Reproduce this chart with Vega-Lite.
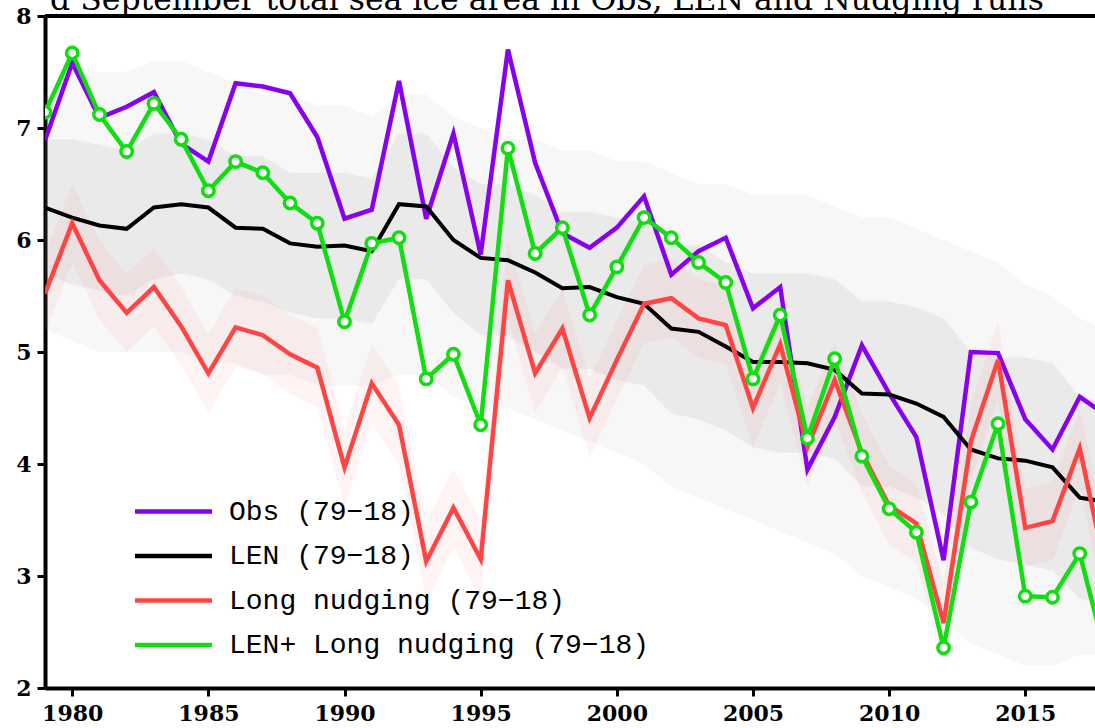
{
  "$schema": "https://vega.github.io/schema/vega-lite/v6.json",
  "width": 1050,
  "height": 672,
  "autosize": {"type": "none"},
  "padding": {"left": 45, "top": 16, "right": 0, "bottom": 40},
  "background": "white",
  "title": {
    "text": "d September total sea ice area in Obs, LEN and Nudging runs",
    "anchor": "start",
    "frame": "group",
    "font": "DejaVu Serif",
    "fontSize": 31.5,
    "fontWeight": "normal",
    "color": "black",
    "baseline": "alphabetic",
    "offset": 0,
    "dy": 36,
    "dx": 5
  },
  "config": {
    "view": {"stroke": null},
    "axis": {
      "labelFont": "DejaVu Serif",
      "labelFontWeight": "bold",
      "labelFontSize": 22,
      "labelColor": "black",
      "domainColor": "black",
      "domainWidth": 4,
      "tickColor": "black",
      "tickWidth": 3,
      "tickSize": 8,
      "grid": false,
      "labelPadding": 6
    }
  },
  "data": {
    "values": [
      {"year": 1979, "obs": 6.89, "len": 6.29, "nud": 5.52, "ln": 7.14, "glo": 5.2, "ghi": 7.3, "ilo": 5.7, "ihi": 6.9, "rlo": 5.17, "rhi": 5.87},
      {"year": 1980, "obs": 7.58, "len": 6.2, "nud": 6.15, "ln": 7.67, "glo": 5.1, "ghi": 7.5, "ilo": 5.6, "ihi": 6.9, "rlo": 5.8, "rhi": 6.5},
      {"year": 1981, "obs": 7.09, "len": 6.13, "nud": 5.64, "ln": 7.12, "glo": 5.0, "ghi": 7.5, "ilo": 5.55, "ihi": 6.85, "rlo": 5.29, "rhi": 5.99},
      {"year": 1982, "obs": 7.19, "len": 6.1, "nud": 5.35, "ln": 6.79, "glo": 5.0, "ghi": 7.5, "ilo": 5.5, "ihi": 6.8, "rlo": 5.0, "rhi": 5.7},
      {"year": 1983, "obs": 7.32, "len": 6.29, "nud": 5.58, "ln": 7.22, "glo": 5.0, "ghi": 7.6, "ilo": 5.65, "ihi": 6.95, "rlo": 5.23, "rhi": 5.93},
      {"year": 1984, "obs": 6.86, "len": 6.32, "nud": 5.23, "ln": 6.9, "glo": 5.0, "ghi": 7.6, "ilo": 5.7, "ihi": 6.95, "rlo": 4.88, "rhi": 5.58},
      {"year": 1985, "obs": 6.7, "len": 6.29, "nud": 4.81, "ln": 6.44, "glo": 4.9, "ghi": 7.5, "ilo": 5.65, "ihi": 6.9, "rlo": 4.46, "rhi": 5.16},
      {"year": 1986, "obs": 7.4, "len": 6.11, "nud": 5.22, "ln": 6.7, "glo": 4.9, "ghi": 7.4, "ilo": 5.5, "ihi": 6.75, "rlo": 4.87, "rhi": 5.57},
      {"year": 1987, "obs": 7.37, "len": 6.1, "nud": 5.15, "ln": 6.6, "glo": 4.8, "ghi": 7.3, "ilo": 5.45, "ihi": 6.75, "rlo": 4.8, "rhi": 5.5},
      {"year": 1988, "obs": 7.31, "len": 5.97, "nud": 4.98, "ln": 6.33, "glo": 4.8, "ghi": 7.3, "ilo": 5.35, "ihi": 6.6, "rlo": 4.63, "rhi": 5.33},
      {"year": 1989, "obs": 6.92, "len": 5.94, "nud": 4.86, "ln": 6.15, "glo": 4.7, "ghi": 7.2, "ilo": 5.3, "ihi": 6.6, "rlo": 4.51, "rhi": 5.21},
      {"year": 1990, "obs": 6.19, "len": 5.95, "nud": 3.97, "ln": 5.27, "glo": 4.7, "ghi": 7.2, "ilo": 5.3, "ihi": 6.6, "rlo": 3.62, "rhi": 4.32},
      {"year": 1991, "obs": 6.27, "len": 5.9, "nud": 4.72, "ln": 5.97, "glo": 4.7, "ghi": 7.1, "ilo": 5.25, "ihi": 6.55, "rlo": 4.37, "rhi": 5.07},
      {"year": 1992, "obs": 7.42, "len": 6.32, "nud": 4.35, "ln": 6.02, "glo": 4.8, "ghi": 7.3, "ilo": 5.65, "ihi": 6.95, "rlo": 4.0, "rhi": 4.7},
      {"year": 1993, "obs": 6.19, "len": 6.3, "nud": 3.13, "ln": 4.76, "glo": 4.8, "ghi": 7.3, "ilo": 5.65, "ihi": 6.95, "rlo": 2.78, "rhi": 3.48},
      {"year": 1994, "obs": 6.95, "len": 6.0, "nud": 3.61, "ln": 4.98, "glo": 4.6, "ghi": 7.1, "ilo": 5.35, "ihi": 6.65, "rlo": 3.26, "rhi": 3.96},
      {"year": 1995, "obs": 5.87, "len": 5.84, "nud": 3.15, "ln": 4.35, "glo": 4.5, "ghi": 7.0, "ilo": 5.15, "ihi": 6.5, "rlo": 2.8, "rhi": 3.5},
      {"year": 1996, "obs": 7.7, "len": 5.82, "nud": 5.64, "ln": 6.82, "glo": 4.5, "ghi": 6.9, "ilo": 5.15, "ihi": 6.5, "rlo": 5.29, "rhi": 5.99},
      {"year": 1997, "obs": 6.69, "len": 5.71, "nud": 4.81, "ln": 5.88, "glo": 4.4, "ghi": 6.9, "ilo": 5.0, "ihi": 6.4, "rlo": 4.46, "rhi": 5.16},
      {"year": 1998, "obs": 6.06, "len": 5.57, "nud": 5.21, "ln": 6.11, "glo": 4.3, "ghi": 6.8, "ilo": 4.85, "ihi": 6.25, "rlo": 4.86, "rhi": 5.56},
      {"year": 1999, "obs": 5.93, "len": 5.58, "nud": 4.41, "ln": 5.33, "glo": 4.2, "ghi": 6.8, "ilo": 4.85, "ihi": 6.25, "rlo": 4.06, "rhi": 4.76},
      {"year": 2000, "obs": 6.11, "len": 5.49, "nud": 4.93, "ln": 5.76, "glo": 4.1, "ghi": 6.7, "ilo": 4.75, "ihi": 6.2, "rlo": 4.58, "rhi": 5.28},
      {"year": 2001, "obs": 6.39, "len": 5.43, "nud": 5.43, "ln": 6.2, "glo": 4.0, "ghi": 6.7, "ilo": 4.7, "ihi": 6.15, "rlo": 5.08, "rhi": 5.78},
      {"year": 2002, "obs": 5.69, "len": 5.21, "nud": 5.48, "ln": 6.02, "glo": 3.8, "ghi": 6.6, "ilo": 4.45, "ihi": 5.95, "rlo": 5.13, "rhi": 5.83},
      {"year": 2003, "obs": 5.9, "len": 5.18, "nud": 5.3, "ln": 5.8, "glo": 3.7, "ghi": 6.5, "ilo": 4.4, "ihi": 5.95, "rlo": 4.95, "rhi": 5.65},
      {"year": 2004, "obs": 6.02, "len": 5.05, "nud": 5.24, "ln": 5.62, "glo": 3.6, "ghi": 6.5, "ilo": 4.3, "ihi": 5.8, "rlo": 4.89, "rhi": 5.59},
      {"year": 2005, "obs": 5.39, "len": 4.91, "nud": 4.5, "ln": 4.76, "glo": 3.5, "ghi": 6.4, "ilo": 4.15, "ihi": 5.7, "rlo": 4.15, "rhi": 4.85},
      {"year": 2006, "obs": 5.58, "len": 4.91, "nud": 5.07, "ln": 5.33, "glo": 3.4, "ghi": 6.4, "ilo": 4.1, "ihi": 5.7, "rlo": 4.72, "rhi": 5.42},
      {"year": 2007, "obs": 3.95, "len": 4.9, "nud": 4.15, "ln": 4.23, "glo": 3.3, "ghi": 6.4, "ilo": 4.1, "ihi": 5.7, "rlo": 3.8, "rhi": 4.5},
      {"year": 2008, "obs": 4.42, "len": 4.84, "nud": 4.75, "ln": 4.94, "glo": 3.2, "ghi": 6.3, "ilo": 4.05, "ihi": 5.65, "rlo": 4.4, "rhi": 5.1},
      {"year": 2009, "obs": 5.06, "len": 4.63, "nud": 4.1, "ln": 4.07, "glo": 3.0, "ghi": 6.2, "ilo": 3.8, "ihi": 5.45, "rlo": 3.75, "rhi": 4.45},
      {"year": 2010, "obs": 4.63, "len": 4.62, "nud": 3.63, "ln": 3.6, "glo": 2.9, "ghi": 6.2, "ilo": 3.8, "ihi": 5.45, "rlo": 3.28, "rhi": 3.98},
      {"year": 2011, "obs": 4.24, "len": 4.54, "nud": 3.47, "ln": 3.39, "glo": 2.8, "ghi": 6.1, "ilo": 3.7, "ihi": 5.4, "rlo": 3.12, "rhi": 3.82},
      {"year": 2012, "obs": 3.14, "len": 4.42, "nud": 2.58, "ln": 2.36, "glo": 2.6, "ghi": 6.0, "ilo": 3.55, "ihi": 5.3, "rlo": 2.23, "rhi": 2.93},
      {"year": 2013, "obs": 5.0, "len": 4.13, "nud": 4.2, "ln": 3.66, "glo": 2.4, "ghi": 5.9, "ilo": 3.25, "ihi": 5.0, "rlo": 3.85, "rhi": 4.55},
      {"year": 2014, "obs": 4.99, "len": 4.05, "nud": 4.93, "ln": 4.36, "glo": 2.3, "ghi": 5.8, "ilo": 3.15, "ihi": 4.95, "rlo": 4.58, "rhi": 5.28},
      {"year": 2015, "obs": 4.4, "len": 4.03, "nud": 3.43, "ln": 2.82, "glo": 2.2, "ghi": 5.6, "ilo": 3.1, "ihi": 4.95, "rlo": 3.08, "rhi": 3.78},
      {"year": 2016, "obs": 4.13, "len": 3.97, "nud": 3.49, "ln": 2.81, "glo": 2.2, "ghi": 5.5, "ilo": 3.05, "ihi": 4.9, "rlo": 3.14, "rhi": 3.84},
      {"year": 2017, "obs": 4.6, "len": 3.7, "nud": 4.14, "ln": 3.2, "glo": 2.3, "ghi": 5.3, "ilo": 2.8, "ihi": 4.6, "rlo": 3.79, "rhi": 4.49},
      {"year": 2018, "obs": 4.43, "len": 3.66, "nud": 3.0, "ln": 2.25, "glo": 2.3, "ghi": 5.2, "ilo": 2.75, "ihi": 4.55, "rlo": 2.65, "rhi": 3.35}
    ]
  },
  "encoding": {
    "x": {
      "field": "year",
      "type": "quantitative",
      "title": null,
      "scale": {"domain": [1979, 2017.56], "nice": false, "zero": false},
      "axis": {"values": [1980, 1985, 1990, 1995, 2000, 2005, 2010, 2015], "format": "d", "labelPadding": 7}
    }
  },
  "layer": [
    {
      "mark": {"type": "area", "color": "#9a9a9a", "opacity": 0.08, "clip": true},
      "encoding": {
        "y": {"field": "glo", "type": "quantitative", "title": null, "scale": {"domain": [2, 8], "nice": false, "zero": false}, "axis": {"values": [2, 3, 4, 5, 6, 7, 8], "format": "d"}},
        "y2": {"field": "ghi"}
      }
    },
    {
      "mark": {"type": "area", "color": "#808080", "opacity": 0.1, "clip": true},
      "encoding": {
        "y": {"field": "ilo", "type": "quantitative", "title": null, "scale": {"domain": [2, 8], "nice": false, "zero": false}},
        "y2": {"field": "ihi"}
      }
    },
    {
      "mark": {"type": "area", "color": "#ff3030", "opacity": 0.06, "clip": true},
      "encoding": {
        "y": {"field": "rlo", "type": "quantitative", "title": null, "scale": {"domain": [2, 8], "nice": false, "zero": false}},
        "y2": {"field": "rhi"}
      }
    },
    {
      "mark": {"type": "rule", "color": "black", "strokeWidth": 4},
      "encoding": {
        "x": {"value": 0},
        "x2": {"value": 1050},
        "y": {"datum": 8, "type": "quantitative", "scale": {"domain": [2, 8], "nice": false, "zero": false}}
      }
    },
    {
      "mark": {"type": "line", "strokeWidth": 4.5, "clip": true},
      "encoding": {
        "y": {"field": "obs", "type": "quantitative", "title": null, "scale": {"domain": [2, 8], "nice": false, "zero": false}},
        "color": {
          "datum": "Obs (79−18)",
          "scale": {
            "domain": ["Obs (79−18)", "LEN (79−18)", "Long nudging (79−18)", "LEN+ Long nudging (79−18)"],
            "range": ["#8800ee", "#000000", "#ff4444", "#11dd11"]
          },
          "legend": {
            "orient": "none",
            "legendX": 107,
            "legendY": 474,
            "title": null,
            "padding": 0,
            "symbolType": "M-2,0H2",
            "symbolSize": 1482,
            "symbolStrokeWidth": 4.5,
            "labelFont": "Liberation Mono",
            "labelFontSize": 28,
            "labelColor": "black",
            "labelOffset": 34,
            "labelLimit": 1000,
            "rowPadding": 8.5
          }
        }
      }
    },
    {
      "mark": {"type": "line", "strokeWidth": 4, "clip": true},
      "encoding": {
        "y": {"field": "len", "type": "quantitative", "title": null, "scale": {"domain": [2, 8], "nice": false, "zero": false}},
        "color": {"datum": "LEN (79−18)"}
      }
    },
    {
      "mark": {"type": "line", "strokeWidth": 4.5, "clip": true},
      "encoding": {
        "y": {"field": "nud", "type": "quantitative", "title": null, "scale": {"domain": [2, 8], "nice": false, "zero": false}},
        "color": {"datum": "Long nudging (79−18)"}
      }
    },
    {
      "mark": {"type": "line", "strokeWidth": 4.5, "clip": true},
      "encoding": {
        "y": {"field": "ln", "type": "quantitative", "title": null, "scale": {"domain": [2, 8], "nice": false, "zero": false}},
        "color": {"datum": "LEN+ Long nudging (79−18)"}
      }
    },
    {
      "mark": {"type": "point", "shape": "circle", "filled": true, "fill": "white", "stroke": "#11dd11", "strokeWidth": 3.5, "size": 130, "opacity": 1, "clip": true},
      "encoding": {
        "y": {"field": "ln", "type": "quantitative", "title": null, "scale": {"domain": [2, 8], "nice": false, "zero": false}}
      }
    }
  ]
}
